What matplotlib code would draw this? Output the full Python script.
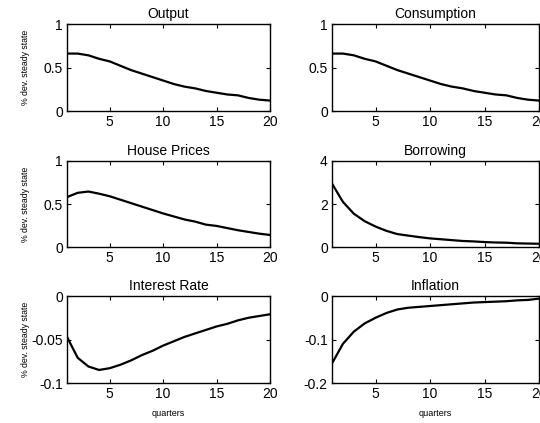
import numpy as np
import matplotlib.pyplot as plt

plt.rcParams['font.family'] = ['Liberation Sans', 'DejaVu Sans']

quarters = np.arange(1, 21)

output = [0.66, 0.66, 0.64, 0.60, 0.57, 0.52, 0.47, 0.43, 0.39, 0.35,
          0.31, 0.28, 0.26, 0.23, 0.21, 0.19, 0.18, 0.15, 0.13, 0.12]
consumption = [0.66, 0.66, 0.64, 0.60, 0.57, 0.52, 0.47, 0.43, 0.39, 0.35,
               0.31, 0.28, 0.26, 0.23, 0.21, 0.19, 0.18, 0.15, 0.13, 0.12]
house_prices = [0.58, 0.63, 0.645, 0.62, 0.59, 0.55, 0.51, 0.47, 0.43, 0.39,
                0.355, 0.32, 0.295, 0.26, 0.245, 0.22, 0.195, 0.175, 0.155, 0.14]
borrowing = [2.95, 2.1, 1.55, 1.2, 0.95, 0.75, 0.6, 0.53, 0.46, 0.4,
             0.36, 0.32, 0.28, 0.26, 0.23, 0.21, 0.2, 0.17, 0.16, 0.15]
interest_rate = [-0.047, -0.071, -0.081, -0.085, -0.083, -0.079, -0.074, -0.068, -0.063, -0.057,
                 -0.052, -0.047, -0.043, -0.039, -0.035, -0.032, -0.028, -0.025, -0.023, -0.021]
inflation = [-0.155, -0.11, -0.082, -0.063, -0.05, -0.039, -0.031, -0.027, -0.025, -0.023,
             -0.021, -0.019, -0.017, -0.015, -0.014, -0.013, -0.012, -0.010, -0.009, -0.006]

panels = [
    ("Output", output, (0, 1), [0, 0.5, 1], ["0", "0.5", "1"]),
    ("Consumption", consumption, (0, 1), [0, 0.5, 1], ["0", "0.5", "1"]),
    ("House Prices", house_prices, (0, 1), [0, 0.5, 1], ["0", "0.5", "1"]),
    ("Borrowing", borrowing, (0, 4), [0, 2, 4], ["0", "2", "4"]),
    ("Interest Rate", interest_rate, (-0.1, 0), [-0.1, -0.05, 0], ["-0.1", "-0.05", "0"]),
    ("Inflation", inflation, (-0.2, 0), [-0.2, -0.1, 0], ["-0.2", "-0.1", "0"]),
]

W, H = 540, 423
fig = plt.figure(figsize=(W / 100, H / 100), dpi=100)

cols = [(67, 203), (332, 207)]
rows = [(24, 87), (161, 86), (296, 87)]

for i, (title, vals, ylim, yt, ytl) in enumerate(panels):
    r, c = divmod(i, 2)
    x0, w = cols[c]
    top, h = rows[r]
    ax = fig.add_axes([x0 / W, (H - top - h) / H, w / W, h / H])
    ax.plot(quarters, vals, color='black', lw=1.6)
    ax.set_xlim(1, 20)
    ax.set_ylim(*ylim)
    ax.set_xticks([5, 10, 15, 20])
    ax.set_yticks(yt)
    ax.set_yticklabels(ytl)
    ax.tick_params(direction='in', length=3, width=0.8, top=True, right=True,
                   labelsize=10, pad=3)
    for s in ax.spines.values():
        s.set_linewidth(1.0)
    ax.set_title(title, fontsize=10, pad=4)
    if c == 0:
        fig.text(26 / W, 1 - (top + h / 2) / H, "% dev. steady state",
                 rotation=90, fontsize=6.3, ha='center', va='center')
    if r == 2:
        fig.text((x0 + w / 2) / W, 1 - 413 / H, "quarters",
                 fontsize=6.5, ha='center', va='center')

fig.savefig("out.png", dpi=100)
plt.close(fig)
